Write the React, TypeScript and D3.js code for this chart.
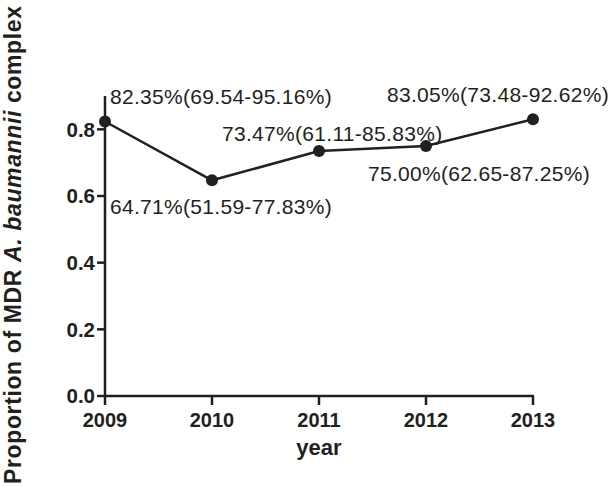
import React from "react";
import * as d3 from "d3";

const years = [2009, 2010, 2011, 2012, 2013];
const proportions = [0.8235, 0.6471, 0.7347, 0.75, 0.8305];
const labels = [
  "82.35%(69.54-95.16%)",
  "64.71%(51.59-77.83%)",
  "73.47%(61.11-85.83%)",
  "75.00%(62.65-87.25%)",
  "83.05%(73.48-92.62%)",
];
const yTicks = [0, 0.2, 0.4, 0.6, 0.8];

const W = 608;
const H = 487;
const INK = "#231f20";

export default function App() {
  const x = d3.scaleLinear().domain([2009, 2013]).range([105, 533]);
  const y = d3.scaleLinear().domain([0, 0.9]).range([396, 96]);
  const line = d3
    .line<number>()
    .x((_, i) => x(years[i]))
    .y((d) => y(d));

  // label placement offsets relative to the point (dx, dy in px)
  const labelPos: [number, number][] = [
    [5, -18],
    [-102, 34],
    [-97, -10.5],
    [-58, 34.5],
    [-146, -17.5],
  ];

  return (
    <svg
      width={W}
      height={H}
      style={{ position: "absolute", left: 0, top: 0, background: "#fff" }}
      fontFamily="Arial, 'Liberation Sans', Helvetica, sans-serif"
    >
      <rect width={W} height={H} fill="#fff" />
      {/* y axis */}
      <line x1={105} x2={105} y1={y(0.9)} y2={y(0) + 1} stroke={INK} strokeWidth={2.5} />
      {yTicks.map((t) => (
        <g key={t}>
          <line x1={97} x2={105} y1={y(t)} y2={y(t)} stroke={INK} strokeWidth={2.5} />
          <text
            x={95}
            y={y(t)}
            dy="0.36em"
            textAnchor="end"
            fontSize={20.5}
            fontWeight="bold"
            fill={INK}
          >
            {t.toFixed(1)}
          </text>
        </g>
      ))}
      {/* x axis */}
      <line x1={104} x2={x(2013) + 1} y1={y(0)} y2={y(0)} stroke={INK} strokeWidth={2.5} />
      {years.map((yr) => (
        <g key={yr}>
          <line x1={x(yr)} x2={x(yr)} y1={y(0)} y2={y(0) + 9} stroke={INK} strokeWidth={2.5} />
          <text
            x={x(yr)}
            y={427}
            textAnchor="middle"
            fontSize={20}
            fontWeight="bold"
            fill={INK}
          >
            {yr}
          </text>
        </g>
      ))}
      <text x={319} y={455} textAnchor="middle" fontSize={22} fontWeight="bold" fill={INK}>
        year
      </text>
      <text
        transform="translate(21,245) rotate(-90)"
        textAnchor="middle"
        fontSize={23}
        fontWeight="bold"
        fill={INK}
        textLength={478}
        lengthAdjust="spacing"
      >
        Proportion of MDR <tspan fontStyle="italic">A. baumannii</tspan> complex
      </text>
      {/* line + points */}
      <path d={line(proportions) || ""} fill="none" stroke={INK} strokeWidth={2.5} />
      {proportions.map((p, i) => (
        <circle key={i} cx={x(years[i])} cy={y(p)} r={6} fill={INK} />
      ))}
      {labels.map((l, i) => (
        <text
          key={i}
          x={x(years[i]) + labelPos[i][0]}
          y={y(proportions[i]) + labelPos[i][1]}
          fontSize={21}
          letterSpacing={0.3}
          fill={INK}
        >
          {l}
        </text>
      ))}
    </svg>
  );
}
